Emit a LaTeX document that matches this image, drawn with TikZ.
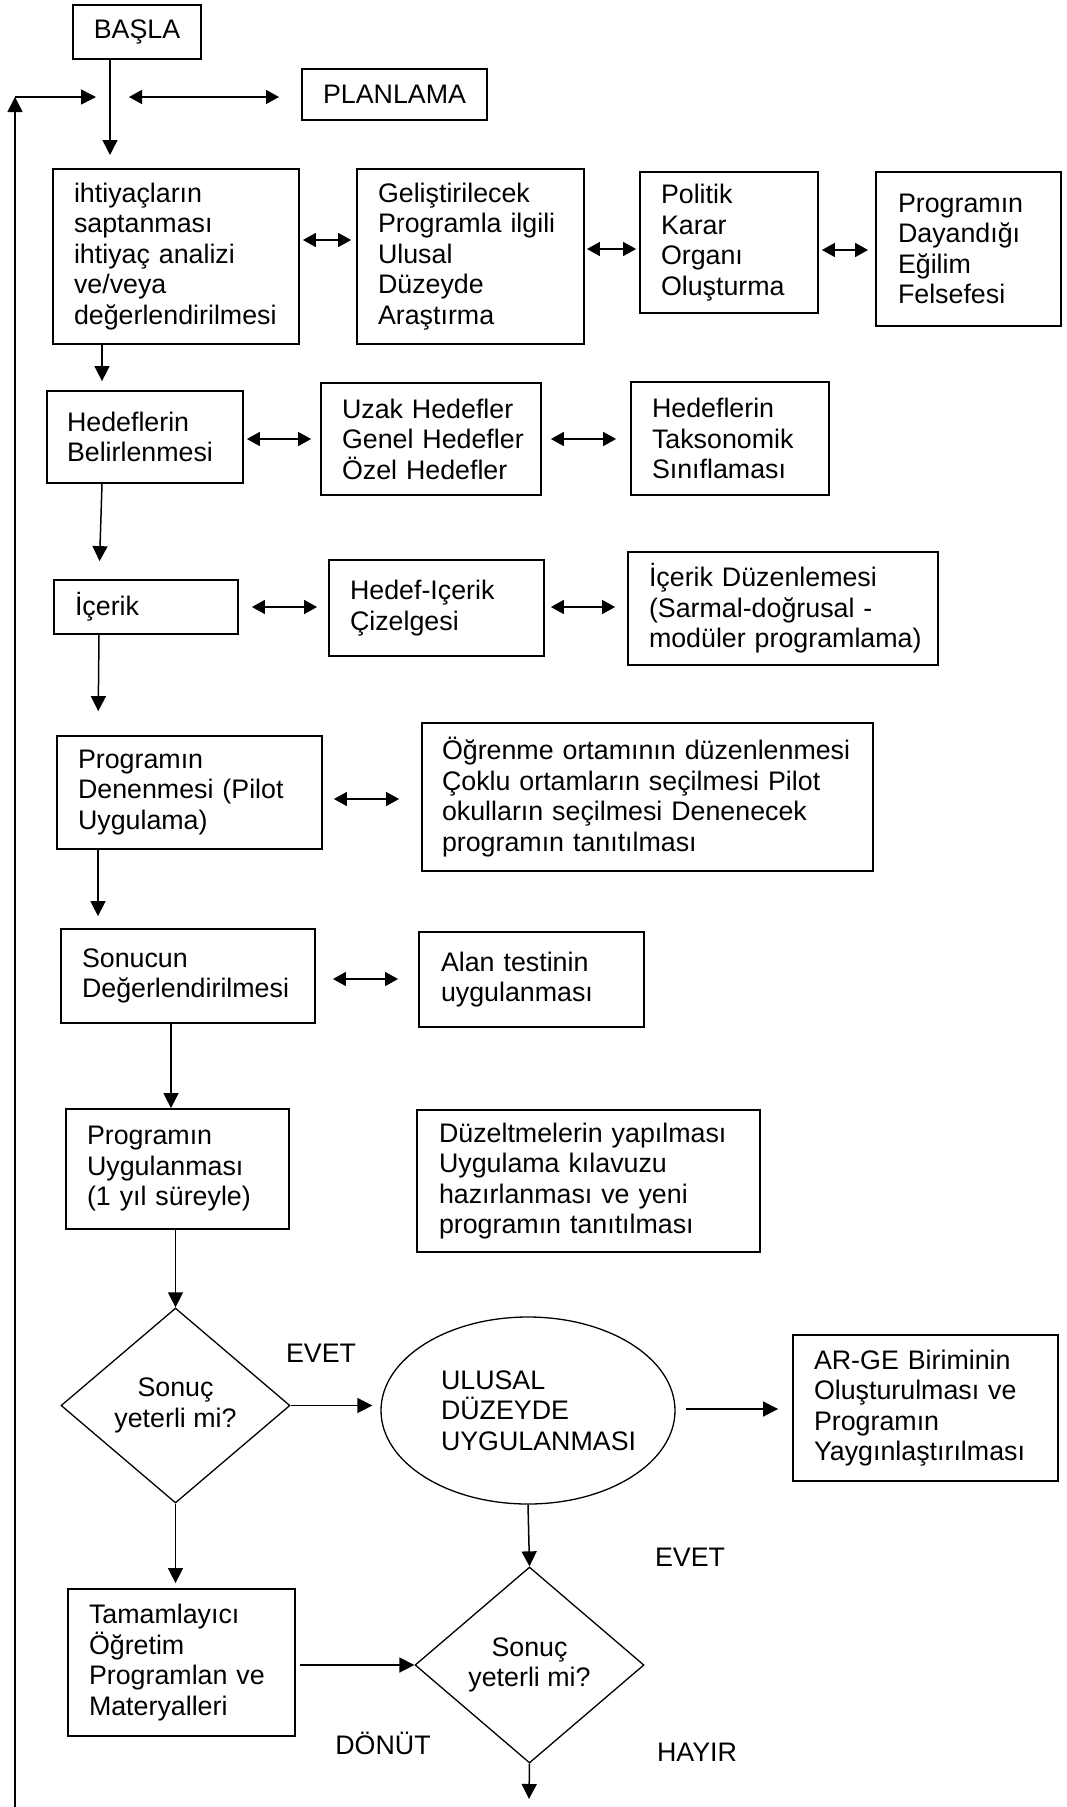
\documentclass[tikz,border=0pt]{standalone}
\usepackage{fontspec}
\setmainfont{Liberation Sans}
\usetikzlibrary{arrows.meta,shapes.geometric}
\hyphenpenalty=10000
\exhyphenpenalty=10000
\lefthyphenmin=64
\begin{document}
\begin{tikzpicture}[x=1pt,y=-1pt,
  every node/.style={font=\fontsize{26.8pt}{30.5pt}\selectfont},
  bx/.style={draw,line width=1.8pt,rectangle,inner ysep=0pt,align=left},
  cbx/.style={draw,line width=1.8pt,rectangle,inner sep=0pt,align=center},
  arr/.style={line width=1.5pt,-{Triangle[length=15pt,width=15pt]}},
  darr/.style={line width=1.5pt,{Triangle[length=13pt,width=14pt]}-{Triangle[length=13pt,width=14pt]}},
  lbl/.style={inner sep=0pt}
]
\fill[white] (0,0) rectangle (1067,1807);
\useasboundingbox (0,0) rectangle (1067,1807);

% top
\node[cbx,minimum width=128pt,minimum height=54pt] (basla) at (137,32) {BAŞLA};
\node[cbx,minimum width=185pt,minimum height=51pt] (plan) at (394.5,94.5) {PLANLAMA};

% row 1
\node[bx,minimum width=246pt,minimum height=175pt,text width=204pt,inner xsep=21pt] (ihti) at (176,256.5)
  {ihtiyaçların\\saptanması\\ihtiyaç~analizi\\ve/veya\\değerlendirilmesi};
\node[bx,minimum width=227pt,minimum height=175pt,text width=185pt,inner xsep=21pt] (gelis) at (470.5,256.5)
  {Geliştirilecek\\Programla~ilgili\\Ulusal\\Düzeyde\\Araştırma};
\node[bx,minimum width=178pt,minimum height=141pt,text width=136pt,inner xsep=21pt] (polit) at (729,242.5)
  {Politik\\Karar\\Organı\\Oluşturma};
\node[bx,minimum width=185pt,minimum height=154pt,text width=141pt,inner xsep=22pt] (dayan) at (968.5,249)
  {Programın\\Dayandığı\\Eğilim\\Felsefesi};

% row 2
\node[bx,minimum width=196pt,minimum height=92pt,text width=156pt,inner xsep=20pt] (hedef) at (145,437)
  {Hedeflerin\\Belirlenmesi};
\node[bx,minimum width=220pt,minimum height=112pt,text width=178pt,inner xsep=21pt] (uzak) at (431,439)
  {Uzak~Hedefler\\Genel~Hedefler\\Özel~Hedefler};
\node[bx,minimum width=198pt,minimum height=113pt,text width=156pt,inner xsep=21pt] (takso) at (730,438.5)
  {Hedeflerin\\Taksonomik\\Sınıflaması};

% row 3
\node[bx,minimum width=184pt,minimum height=54pt,text width=142pt,inner xsep=21pt] (icerik) at (146,607)
  {İçerik};
\node[bx,minimum width=215pt,minimum height=96pt,text width=173pt,inner xsep=21pt] (hic) at (436.5,608)
  {Hedef-Içerik\\Çizelgesi};
\node[bx,minimum width=310pt,minimum height=113pt,text width=268pt,inner xsep=21pt] (duzen) at (783,608.5)
  {İçerik~Düzenlemesi\\(Sarmal-doğrusal~-\\modüler~programlama)};

% row 4
\node[bx,minimum width=265pt,minimum height=113pt,text width=223pt,inner xsep=21pt] (dene) at (189.5,792.5)
  {Programın\\Denenmesi~(Pilot\\Uygulama)};
\node[bx,minimum width=451pt,minimum height=148pt,text width=411pt,inner xsep=20pt] (ogren) at (647.5,797)
  {Öğrenme~ortamının~düzenlenmesi\\Çoklu~ortamların~seçilmesi~Pilot\\okulların~seçilmesi~Denenecek\\programın~tanıtılması};

% row 5
\node[bx,minimum width=254pt,minimum height=94pt,text width=212pt,inner xsep=21pt] (sonuc) at (188,976)
  {Sonucun\\Değerlendirilmesi};
\node[bx,minimum width=225pt,minimum height=95pt,text width=181pt,inner xsep=22pt] (alan) at (531.5,979.5)
  {Alan~testinin\\uygulanması};

% row 6
\node[bx,minimum width=223pt,minimum height=120pt,text width=181pt,inner xsep=21pt] (uygu) at (177.5,1169)
  {Programın\\Uygulanması\\(1~yıl~süreyle)};
\node[bx,minimum width=343pt,minimum height=142pt,text width=299pt,inner xsep=22pt] (duzelt) at (588.5,1181)
  {Düzeltmelerin~yapılması\\Uygulama~kılavuzu\\hazırlanması~ve~yeni\\programın~tanıtılması};

% decisions
\node[draw,diamond,line width=1.3pt,minimum width=229pt,minimum height=195pt,inner sep=0pt,align=center] (dia1) at (175.5,1405.5)
  {Sonuç\\yeterli~mi?};
\node[draw,ellipse,line width=1.3pt,minimum width=294pt,minimum height=187pt,inner sep=0pt,text width=174pt,align=left] (ell) at (528,1410.5)
  {ULUSAL\\DÜZEYDE\\UYGULANMASI};
\node[bx,minimum width=265pt,minimum height=146pt,text width=223pt,inner xsep=21pt] (arge) at (925.5,1408)
  {AR-GE~Biriminin\\Oluşturulması~ve\\Programın\\Yaygınlaştırılması};
\node[draw,diamond,line width=1.3pt,minimum width=229pt,minimum height=196pt,inner sep=0pt,align=center] (dia2) at (529.5,1665)
  {Sonuç\\yeterli~mi?};
\node[bx,minimum width=227pt,minimum height=147pt,text width=185pt,inner xsep=21pt] (tama) at (181.5,1662.5)
  {Tamamlayıcı\\Öğretim\\Programlan~ve\\Materyalleri};

% labels
\node[lbl] (evet1) at (321,1353) {EVET};
\node[lbl] (evet2) at (690,1557) {EVET};
\node[lbl] (donut) at (383,1743) {DÖNÜT};
\node[lbl] (hayir) at (697,1752) {HAYIR};

% free-end coordinates
\coordinate (bt) at (110,155);
\coordinate (pa) at (129,97);
\coordinate (pb) at (279,97);
\coordinate (fbB) at (15,1807);
\coordinate (fbT) at (15,97);
\coordinate (fbR) at (96,97);
\coordinate (endc) at (529,1799);

% top connectors
\draw[arr] (basla.south -| bt) -- (bt);
\draw[darr] (pa) -- (pb);
\draw[arr] (fbB) -- (fbT);
\draw[arr] (fbT) -- (fbR);

% horizontal double arrows
\draw[darr,shorten <=3pt,shorten >=5pt] (ihti.east |- 0,240) -- (gelis.west |- 0,240);
\draw[darr,shorten <=2pt,shorten >=3pt] (gelis.east |- 0,249) -- (polit.west |- 0,249);
\draw[darr,shorten <=3pt,shorten >=7pt] (polit.east |- 0,250) -- (dayan.west |- 0,250);
\draw[darr,shorten <=3pt,shorten >=9pt] (hedef.east |- 0,439) -- (uzak.west |- 0,439);
\draw[darr,shorten <=9pt,shorten >=14pt] (uzak.east |- 0,439) -- (takso.west |- 0,439);
\draw[darr,shorten <=13pt,shorten >=11pt] (icerik.east |- 0,607) -- (hic.west |- 0,607);
\draw[darr,shorten <=6pt,shorten >=12pt] (hic.east |- 0,607) -- (duzen.west |- 0,607);
\draw[darr,shorten <=11pt,shorten >=22pt] (dene.east |- 0,799) -- (ogren.west |- 0,799);
\draw[darr,shorten <=17pt,shorten >=20pt] (sonuc.east |- 0,979) -- (alan.west |- 0,979);

% vertical flow
\draw[arr,shorten >=9pt] (ihti.south -| 102,0) -- (hedef.north -| 102,0);
\draw[arr,shorten >=18pt] (hedef.south -| 102,0) -- (icerik.north -| 99,0);
\draw[arr,shorten >=24pt] (icerik.south -| 99,0) -- (dene.north -| 98,0);
\draw[arr,shorten >=12pt] (dene.south -| 98,0) -- (sonuc.north -| 98,0);
\draw[arr] (sonuc.south -| 171,0) -- (uygu.north -| 171,0);
\draw[arr] (uygu.south -| dia1.north) -- (dia1.north);

% decision flow
\draw[arr,shorten >=8pt] (dia1.east) -- (ell.west |- dia1.east);
\draw[arr,shorten <=10pt,shorten >=14pt] (ell.east |- 0,1409) -- (arge.west |- 0,1409);
\draw[arr] (ell.south) -- (dia2.north);
\draw[arr,shorten >=5pt] (dia1.south) -- (tama.north -| dia1.south);
\draw[arr,shorten <=4pt] (tama.east |- dia2.west) -- (dia2.west);
\draw[arr] (dia2.south) -- (endc);
\end{tikzpicture}
\end{document}
